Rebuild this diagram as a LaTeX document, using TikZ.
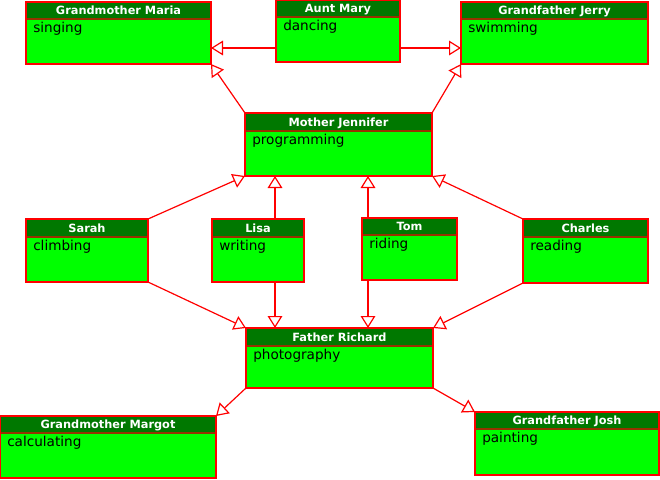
\documentclass[tikz,border=0pt]{standalone}
\usepackage{fontspec}
\setmainfont{DejaVu Sans}
\usetikzlibrary{arrows.meta,fit,calc}

\definecolor{headgreen}{RGB}{0,120,0}
\definecolor{bodygreen}{RGB}{0,255,0}
\definecolor{linered}{RGB}{255,0,0}
\definecolor{sepred}{RGB}{150,50,0}

\tikzset{
  classframe/.style={inner sep=0pt, outer sep=0pt, fill=bodygreen},
  classborder/.style={draw=linered, line width=0.9pt},
  sepline/.style={draw=sepred, line width=0.9pt},
  classtitle/.style={anchor=base, inner sep=0pt, text=white,
    font=\bfseries\fontsize{8.5}{10}\selectfont},
  classbody/.style={anchor=base west, inner sep=0pt, text=black,
    font=\fontsize{10.2}{12}\selectfont},
  inherit/.style={draw=linered, line width=0.9pt,
    -{Triangle[open, length=9pt, width=11pt]}},
}

% #1 name, #2 left, #3 top, #4 right, #5 bottom, #6 header bottom, #7 title, #8 attribute
\newcommand\umlclass[8]{%
  \node[classframe, fit={(#2,#3) (#4,#5)}] (#1) {};
  \fill[headgreen] (#1.north west) rectangle (#4,#6);
  \draw[sepline] (#2,#6) -- (#4,#6);
  \draw[classborder] (#1.north west) rectangle (#1.south east);
  \node[classtitle] (#1-title) at ({(#2+#4)/2},{(#3+#6)/2+4}) {#7};
  \node[classbody] (#1-body) at ({#2+7},{#6+13}) {#8};
}

\begin{document}
\begin{tikzpicture}[x=0.75pt, y=-0.75pt]
\useasboundingbox (0,0) rectangle (660,479);

\umlclass{maria}{26}{2}{211}{64}{19}{Grandmother Maria}{singing}
\umlclass{mary}{276}{0}{400}{62}{17}{Aunt Mary}{dancing}
\umlclass{jerry}{461}{2}{648}{64}{19}{Grandfather Jerry}{swimming}
\umlclass{jennifer}{245}{113}{432}{176}{131}{Mother Jennifer}{programming}
\umlclass{sarah}{26}{219}{148}{282}{237}{Sarah}{climbing}
\umlclass{lisa}{212}{219}{304}{282}{237}{Lisa}{writing}
\umlclass{tom}{362}{218}{457}{280}{235}{Tom}{riding}
\umlclass{charles}{523}{219}{648}{283}{237}{Charles}{reading}
\umlclass{richard}{246}{328}{433}{388}{346}{Father Richard}{photography}
\umlclass{margot}{0}{416}{216}{478}{433}{Grandmother Margot}{calculating}
\umlclass{josh}{475}{412}{659}{475}{429}{Grandfather Josh}{painting}

% helper coordinates for straight connectors
\coordinate (maryY) at (0,48);
\coordinate (lisaX) at (275,0);
\coordinate (tomX) at (368,0);

% generalisation arrows
\draw[inherit] (mary.west |- maryY) -- (maria.east |- maryY);
\draw[inherit] (mary.east |- maryY) -- (jerry.west |- maryY);
\draw[inherit] (jennifer.north west) -- (maria.south east);
\draw[inherit] (jennifer.north east) -- (jerry.south west);

\draw[inherit] (sarah.north east) -- (jennifer.south west);
\draw[inherit] (lisa.north -| lisaX) -- (jennifer.south -| lisaX);
\draw[inherit] (tom.north -| tomX) -- (jennifer.south -| tomX);
\draw[inherit] (charles.north west) -- (jennifer.south east);

\draw[inherit] (sarah.south east) -- (richard.north west);
\draw[inherit] (lisa.south -| lisaX) -- (richard.north -| lisaX);
\draw[inherit] (tom.south -| tomX) -- (richard.north -| tomX);
\draw[inherit] (charles.south west) -- (richard.north east);

\draw[inherit] (richard.south west) -- (margot.north east);
\draw[inherit] (richard.south east) -- (josh.north west);
\end{tikzpicture}
\end{document}
